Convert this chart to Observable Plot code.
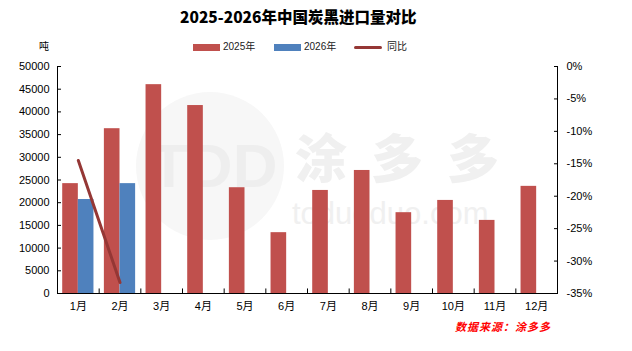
<!DOCTYPE html>
<html><head><meta charset="utf-8">
<script src="https://cdn.jsdelivr.net/npm/d3@7"></script>
<script src="https://cdn.jsdelivr.net/npm/@observablehq/plot@0.6"></script>
<style>
body{margin:0;background:#fff;font-family:"Liberation Sans","Noto Sans CJK SC",sans-serif;}
#wrap{position:relative;width:632px;height:351px;overflow:hidden;}
.abs{position:absolute;white-space:nowrap;line-height:1;}
#title{left:180px;top:9px;font-size:15.5px;font-weight:900;font-family:"Noto Sans CJK SC",sans-serif;color:#000;}
#unit{left:39px;top:41px;font-size:10px;font-family:"Noto Sans CJK SC";}
.leg{top:42px;font-size:10px;display:flex;align-items:center;font-family:"Liberation Sans","Noto Sans CJK SC";color:#222}
.sw{display:inline-block;width:27px;height:7px;margin-right:3px}
.ln{display:inline-block;width:28px;height:3px;margin-right:5px;border-radius:2px}
#src{left:455px;top:321px;font-size:11px;font-weight:bold;font-style:italic;color:#ff0000;font-family:"Noto Sans CJK SC";letter-spacing:1px}
#chart{position:absolute;left:0;top:0}
.wm{color:#f0f0f0;font-weight:900}
#logo{left:136px;top:92px;width:148px;height:148px;border-radius:50%;background:#f7f7f7}
</style></head>
<body>
<div id="wrap">
  <div id="logo" class="abs"></div>
  <div class="abs wm" style="left:150px;top:135px;font-size:62px;font-family:'Liberation Sans';color:#eeeeee">TDD</div>
  <div class="abs wm" style="left:295px;top:130px;font-size:52px;font-family:'Noto Sans CJK SC';letter-spacing:24px">涂多多</div>
  <div class="abs wm" style="left:292px;top:198px;font-size:31px;font-family:'Liberation Sans';font-weight:normal">toduoduo.com</div>
  <div id="chart"></div>
  <div id="title" class="abs">2025-2026年中国炭黑进口量对比</div>
  <div id="unit" class="abs">吨</div>
  <div class="abs leg" style="left:193px"><span class="sw" style="background:#C0504D"></span>2025年</div>
  <div class="abs leg" style="left:274px"><span class="sw" style="background:#4F81BD"></span>2026年</div>
  <div class="abs leg" style="left:354px"><span class="ln" style="background:#953735"></span>同比</div>
  <div id="src" class="abs">数据来源：涂多多</div>
</div>
<script>
const months = ["1月","2月","3月","4月","5月","6月","7月","8月","9月","10月","11月","12月"];
const v2025 = [24200,36300,46000,41400,23300,13400,22700,27100,17800,20500,16100,23600];
const v2026 = [20700,24200];
const yoy = [-14.5,-33.3];
const leftTicks = [0,5000,10000,15000,20000,25000,30000,35000,40000,45000,50000];
const rightTicks = [0,-5,-10,-15,-20,-25,-30,-35];

const yMax = 50000, pMin = -35;
const toLeft = p => (p - pMin) / (0 - pMin) * yMax;

const d25 = months.map((m,i)=>({m, v:v2025[i]}));
const d26 = v2026.map((v,i)=>({m:months[i], v}));
const dl = yoy.map((p,i)=>({m:months[i], p}));

const W=632,H=351,mL=57,mR=75,mT=66,mB=58;
const step=(W-mL-mR)/months.length;
const bw=step*0.75;

const plot = Plot.plot({
  width:W, height:H,
  marginLeft:mL, marginRight:mR, marginTop:mT, marginBottom:mB,
  style:{background:"transparent", fontFamily:"Liberation Sans, Noto Sans CJK SC, sans-serif", fontSize:"11px", color:"#000"},
  x:{type:"band", domain:months, paddingInner:0.25, paddingOuter:0.125, round:false},
  y:{domain:[0,yMax]},
  marks:[
    Plot.barY(d25,{x:"m", y:"v", fill:"#C0504D", insetRight:bw/2}),
    Plot.barY(d26,{x:"m", y:"v", fill:"#4F81BD", insetLeft:bw/2}),
    Plot.lineY(dl,{x:"m", y:d=>toLeft(d.p), stroke:"#953735", strokeWidth:3, strokeLinecap:"round"}),
    Plot.ruleY([0],{stroke:"#000"}),
    Plot.ruleX([months[0]],{y1:0,y2:yMax,dx:-step/2,stroke:"#000"}),
    Plot.ruleX([months[11]],{y1:0,y2:yMax,dx:step/2,stroke:"#000"}),
    Plot.ruleX(months.slice(1),{y1:0,y2:1000,dx:-step/2,stroke:"#000"}),
    Plot.axisY({anchor:"left", ticks:leftTicks, tickSize:-4, tickPadding:12, label:null, tickFormat:d=>String(d), fill:"#000", fontSize:11}),
    Plot.axisY({anchor:"right", ticks:rightTicks.map(toLeft), tickSize:-4, tickPadding:13, label:null, tickFormat:v=>Math.round(v/yMax*35-35)+"%", fill:"#000", fontSize:11}),
    Plot.axisX({anchor:"bottom", tickSize:0, tickPadding:9, label:null, fill:"#000", fontSize:11})
  ]
});
document.getElementById("chart").appendChild(plot);
</script>
</body></html>
